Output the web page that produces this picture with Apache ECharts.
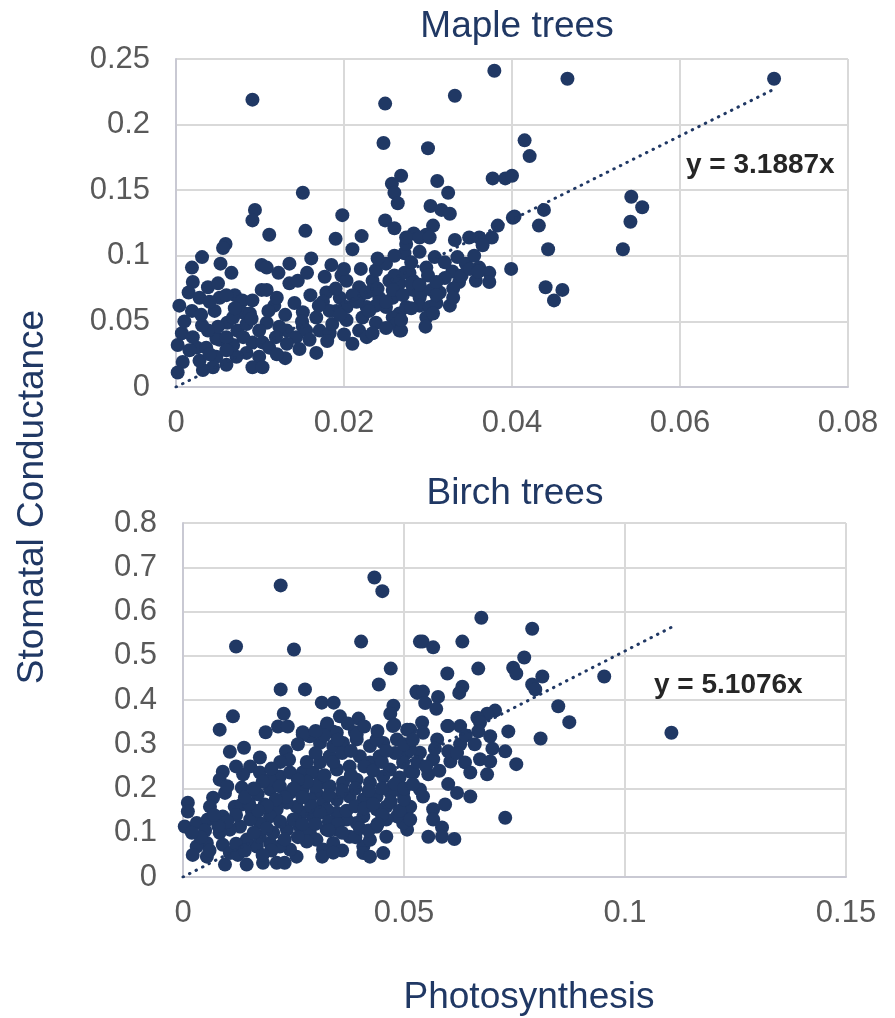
<!DOCTYPE html>
<html>
<head>
<meta charset="utf-8">
<script src="https://cdn.jsdelivr.net/npm/echarts@6/dist/echarts.min.js"></script>
<style>
  html, body { margin: 0; padding: 0; background: #ffffff; }
  #chart { width: 895px; height: 1018px; }
</style>
</head>
<body>
<div id="chart"></div>
<script>
// Photosynthesis (x) vs stomatal conductance (y), one [x, y] pair per leaf
const maplePoints = [
  [0.0091,0.219],[0.0249,0.216],[0.0332,0.222],[0.0379,0.241],[0.0466,0.235],[0.0712,0.235],
  [0.0247,0.186],[0.0415,0.188],[0.0421,0.176],[0.0300,0.182],
  [0.0268,0.161],[0.0257,0.155],[0.0260,0.148],[0.0264,0.140],
  [0.0311,0.157],[0.0324,0.148],[0.0377,0.159],[0.0392,0.159],[0.0400,0.161],
  [0.0151,0.148],[0.0094,0.135],[0.0091,0.127],[0.0111,0.116],[0.0154,0.119],[0.0198,0.131],
  [0.0249,0.127],[0.0260,0.121],[0.0303,0.138],[0.0316,0.135],[0.0326,0.132],[0.0306,0.123],
  [0.0283,0.117],[0.0298,0.116],
  [0.0542,0.145],[0.0555,0.137],[0.0541,0.126],[0.0532,0.105],
  [0.0438,0.135],[0.0432,0.123],[0.0443,0.105],[0.0403,0.130],[0.0383,0.123],[0.0376,0.114],
  [0.0440,0.076],[0.0460,0.074],[0.0450,0.066],[0.0399,0.090],
  [0.0190,0.113],[0.0221,0.115],[0.0210,0.105],[0.0059,0.109],[0.0056,0.106],[0.0031,0.099],
  [0.0019,0.091],[0.0053,0.094],[0.0066,0.087],[0.0102,0.093],[0.0108,0.091],[0.0135,0.094],
  [0.0161,0.098],[0.0122,0.087],[0.0020,0.080],[0.0015,0.072],[0.0038,0.076],[0.0050,0.079],
  [0.0052,0.068],[0.0028,0.068],[0.0070,0.070],[0.0102,0.074],[0.0108,0.074],[0.0135,0.079],
  [0.0145,0.081],[0.0156,0.087],[0.0004,0.062],[0.0019,0.058],[0.0046,0.058],[0.0079,0.066],
  [0.0091,0.066],[0.0079,0.057],[0.0117,0.062],[0.0141,0.064],[0.0177,0.084],[0.0185,0.093],
  [0.0197,0.085],[0.0203,0.081],[0.0179,0.072],[0.0175,0.065],[0.0195,0.068],[0.0203,0.061],
  [0.0218,0.068],[0.0218,0.076],[0.0234,0.081],[0.0238,0.089],[0.0250,0.094],[0.0254,0.081],
  [0.0266,0.079],[0.0258,0.068],[0.0266,0.056],[0.0274,0.061],[0.0282,0.081],[0.0272,0.102],
  [0.0274,0.109],[0.0278,0.087],[0.0203,0.051],[0.0222,0.053],[0.0238,0.049],[0.0258,0.053],
  [0.0167,0.053],[0.0151,0.057],[0.0151,0.046],[0.0132,0.043],[0.0143,0.038],[0.0147,0.029],
  [0.0167,0.026],[0.0123,0.046],[0.0108,0.049],[0.0099,0.043],[0.0091,0.034],[0.0103,0.034],
  [0.0111,0.030],[0.0084,0.026],[0.0099,0.023],[0.0091,0.015],[0.0103,0.015],[0.0072,0.023],
  [0.0060,0.017],[0.0068,0.032],[0.0052,0.036],[0.0048,0.023],[0.0044,0.015],[0.0032,0.013],
  [0.0028,0.020],[0.0025,0.030],[0.0008,0.019],[0.0002,0.011],[0.0002,0.032],[0.0007,0.041],
  [0.0020,0.038],[0.0036,0.030],[0.0016,0.028],[0.0048,0.037],[0.0060,0.038],[0.0073,0.043],
  [0.0061,0.049],[0.0050,0.046],[0.0038,0.043],[0.0031,0.047],[0.0084,0.048],[0.0068,0.053],
  [0.0088,0.056],[0.0171,0.043],[0.0183,0.041],[0.0186,0.048],[0.0218,0.043],[0.0210,0.033],
  [0.0227,0.038],[0.0234,0.041],[0.0191,0.058],[0.0227,0.061],[0.0242,0.068],[0.0238,0.062],
  [0.0250,0.061],[0.0262,0.048],[0.0266,0.043],[0.0290,0.068],[0.0282,0.074],[0.0258,0.074],
  [0.0234,0.074],[0.0227,0.072],[0.0215,0.065],[0.0183,0.058],[0.0195,0.055],[0.0155,0.043],
  [0.0159,0.036],[0.0132,0.033],[0.0119,0.038],
  [0.0274,0.114],[0.0290,0.114],[0.0302,0.114],[0.0332,0.112],[0.0349,0.114],[0.0361,0.114],
  [0.0365,0.108],[0.0335,0.099],[0.0345,0.094],[0.0355,0.100],[0.0361,0.091],[0.0373,0.087],
  [0.0373,0.080],[0.0357,0.081],[0.0337,0.080],[0.0329,0.088],[0.0320,0.083],[0.0308,0.099],
  [0.0298,0.091],[0.0272,0.087],[0.0280,0.079],[0.0292,0.072],[0.0304,0.074],[0.0314,0.072],
  [0.0290,0.062],[0.0302,0.061],[0.0310,0.064],[0.0326,0.062],[0.0298,0.053],[0.0306,0.056],
  [0.0297,0.046],[0.0268,0.043],[0.0268,0.051],[0.0401,0.129],
  [0.0220,0.090],[0.0240,0.075],[0.0260,0.085],[0.0280,0.095],[0.0300,0.085],[0.0320,0.095],
  [0.0340,0.085],[0.0250,0.065],[0.0270,0.070],[0.0290,0.078],[0.0310,0.080],[0.0330,0.075],
  [0.0350,0.090],[0.0230,0.058],[0.0210,0.070],[0.0190,0.075],[0.0170,0.062],[0.0160,0.070],
  [0.0130,0.055],[0.0120,0.068],[0.0110,0.058],[0.0090,0.052],[0.0070,0.060],[0.0060,0.070],
  [0.0040,0.065],[0.0030,0.055],[0.0010,0.050],[0.0040,0.025],[0.0060,0.028],[0.0080,0.038],
  [0.0130,0.022],[0.0120,0.025],[0.0150,0.050],[0.0180,0.035],[0.0200,0.040],[0.0250,0.045],
  [0.0280,0.060],[0.0310,0.070],[0.0330,0.068],[0.0360,0.088],[0.0290,0.103],[0.0260,0.100],
  [0.0240,0.098],[0.0200,0.090]
];

const birchPoints = [
  [0.0221,0.659],[0.0433,0.677],[0.0451,0.646],[0.0120,0.521],[0.0251,0.514],[0.0403,0.532],
  [0.0470,0.471],[0.0443,0.435],[0.0221,0.424],[0.0276,0.424],[0.0314,0.394],[0.0341,0.394],
  [0.0228,0.369],[0.0113,0.363],[0.0083,0.333],[0.0187,0.327],[0.0215,0.340],[0.0237,0.340],
  [0.0355,0.363],[0.0397,0.358],[0.0326,0.347],[0.0373,0.347],[0.0476,0.387],[0.0469,0.369],
  [0.0530,0.416],[0.0536,0.532],[0.0478,0.344],[0.0271,0.327],[0.0339,0.329],[0.0389,0.327],
  [0.0675,0.586],[0.0790,0.561],[0.0542,0.532],[0.0566,0.519],[0.0632,0.532],[0.0772,0.496],
  [0.0668,0.471],[0.0598,0.460],[0.0747,0.473],[0.0754,0.460],[0.0813,0.453],[0.0953,0.453],
  [0.0632,0.430],[0.0625,0.416],[0.0528,0.419],[0.0543,0.419],[0.0577,0.407],[0.0548,0.393],
  [0.0573,0.380],[0.0790,0.435],[0.0797,0.424],[0.0849,0.386],[0.0874,0.350],[0.0736,0.329],
  [0.0809,0.313],[0.0706,0.376],[0.0688,0.369],[0.0666,0.360],[0.0672,0.349],[0.0598,0.341],
  [0.0627,0.341],[0.0541,0.349],[0.0514,0.333],[0.1105,0.326],
  [0.0729,0.284],[0.0754,0.255],[0.0695,0.318],[0.0668,0.329],[0.0627,0.300],[0.0600,0.341],
  [0.0638,0.259],[0.0650,0.236],[0.0672,0.266],[0.0695,0.261],[0.0688,0.232],[0.0650,0.182],
  [0.0729,0.134],[0.0593,0.164],[0.0566,0.153],[0.0566,0.130],[0.0586,0.112],[0.0586,0.091],
  [0.0555,0.091],[0.0614,0.086],[0.0536,0.198],[0.0543,0.182],[0.0510,0.157],[0.0507,0.130],
  [0.0507,0.107],[0.0555,0.232],[0.0514,0.238],[0.0605,0.261],[0.0566,0.266],[0.0536,0.281],
  [0.0507,0.281],[0.0575,0.311],[0.0543,0.326],[0.0600,0.284],
  [0.0106,0.283],[0.0138,0.292],[0.0174,0.270],[0.0233,0.284],[0.0152,0.250],[0.0090,0.238],
  [0.0083,0.220],[0.0136,0.232],[0.0174,0.236],[0.0133,0.202],[0.0095,0.190],[0.0068,0.179],
  [0.0061,0.159],[0.0011,0.168],[0.0011,0.148],[0.0004,0.114],[0.0031,0.122],[0.0056,0.130],
  [0.0090,0.137],[0.0117,0.159],[0.0133,0.164],[0.0156,0.148],[0.0185,0.164],[0.0169,0.187],
  [0.0197,0.198],[0.0219,0.227],[0.0242,0.236],[0.0271,0.236],[0.0197,0.220],[0.0219,0.205],
  [0.0242,0.190],[0.0271,0.198],[0.0294,0.236],[0.0310,0.259],[0.0332,0.273],[0.0348,0.243],
  [0.0377,0.250],[0.0400,0.273],[0.0423,0.259],[0.0445,0.273],[0.0468,0.243],[0.0498,0.259],
  [0.0521,0.236],[0.0514,0.288],[0.0484,0.311],[0.0453,0.303],[0.0423,0.296],[0.0393,0.311],
  [0.0362,0.303],[0.0340,0.296],[0.0310,0.303],[0.0287,0.318],[0.0271,0.322],[0.0325,0.341],
  [0.0348,0.326],[0.0393,0.322],[0.0438,0.311],[0.0475,0.341],[0.0507,0.333],
  [0.0310,0.213],[0.0332,0.205],[0.0362,0.213],[0.0393,0.220],[0.0423,0.213],[0.0453,0.227],
  [0.0475,0.205],[0.0498,0.190],[0.0514,0.159],[0.0302,0.190],[0.0287,0.175],[0.0317,0.168],
  [0.0348,0.175],[0.0377,0.182],[0.0408,0.175],[0.0438,0.182],[0.0460,0.159],[0.0438,0.153],
  [0.0408,0.137],[0.0393,0.122],[0.0370,0.130],[0.0348,0.145],[0.0325,0.153],[0.0294,0.137],
  [0.0271,0.145],[0.0257,0.159],[0.0235,0.168],[0.0212,0.153],[0.0197,0.137],[0.0174,0.122],
  [0.0152,0.130],[0.0129,0.114],[0.0106,0.107],[0.0083,0.100],[0.0090,0.073],[0.0054,0.077],
  [0.0031,0.069],[0.0022,0.050],[0.0054,0.046],[0.0095,0.028],[0.0106,0.054],[0.0124,0.050],
  [0.0144,0.028],[0.0181,0.032],[0.0212,0.032],[0.0230,0.032],[0.0257,0.046],[0.0242,0.062],
  [0.0219,0.069],[0.0197,0.077],[0.0167,0.069],[0.0144,0.084],[0.0174,0.091],[0.0204,0.100],
  [0.0235,0.107],[0.0264,0.114],[0.0287,0.100],[0.0302,0.084],[0.0317,0.062],[0.0315,0.046],
  [0.0340,0.077],[0.0325,0.107],[0.0348,0.107],[0.0377,0.091],[0.0408,0.069],[0.0408,0.054],
  [0.0423,0.046],[0.0453,0.054],[0.0423,0.084],[0.0460,0.091],[0.0498,0.122],[0.0514,0.130],
  [0.0484,0.137],[0.0438,0.114],[0.0460,0.130],
  [0.0280,0.260],[0.0300,0.280],[0.0320,0.230],[0.0340,0.260],[0.0360,0.280],[0.0380,0.230],
  [0.0410,0.250],[0.0430,0.240],[0.0450,0.260],[0.0480,0.280],[0.0500,0.300],[0.0520,0.310],
  [0.0490,0.225],[0.0470,0.190],[0.0450,0.200],[0.0420,0.195],[0.0390,0.200],[0.0360,0.195],
  [0.0330,0.185],[0.0300,0.205],[0.0280,0.215],[0.0260,0.220],[0.0250,0.200],[0.0230,0.180],
  [0.0210,0.175],[0.0190,0.160],[0.0170,0.150],[0.0150,0.165],[0.0140,0.180],[0.0120,0.140],
  [0.0100,0.125],[0.0080,0.115],[0.0070,0.140],[0.0050,0.105],[0.0040,0.090],[0.0020,0.100],
  [0.0060,0.060],[0.0120,0.075],[0.0140,0.060],[0.0160,0.100],[0.0190,0.110],[0.0220,0.125],
  [0.0250,0.130],[0.0270,0.120],[0.0290,0.160],[0.0310,0.145],[0.0330,0.125],[0.0350,0.120],
  [0.0370,0.150],[0.0390,0.160],[0.0410,0.155],[0.0430,0.165],[0.0450,0.140],[0.0470,0.170],
  [0.0490,0.150],[0.0500,0.175],[0.0480,0.210],[0.0460,0.285],[0.0440,0.330],[0.0410,0.340],
  [0.0380,0.285],[0.0350,0.310],[0.0320,0.320],[0.0300,0.330],[0.0260,0.300],[0.0240,0.265],
  [0.0220,0.260],[0.0200,0.245],[0.0180,0.215],[0.0160,0.200],[0.0120,0.250],[0.0100,0.205],
  [0.0270,0.180],[0.0330,0.105],[0.0360,0.100],[0.0390,0.090],[0.0300,0.120],[0.0280,0.080],
  [0.0260,0.090],[0.0230,0.085],[0.0200,0.060],[0.0180,0.050],[0.0400,0.110],[0.0420,0.105],
  [0.0440,0.120],[0.0360,0.060],[0.0340,0.055],[0.0500,0.200],[0.0520,0.210],[0.0530,0.260],
  [0.0550,0.250],[0.0570,0.290],[0.0580,0.240],[0.0620,0.280],[0.0640,0.320],[0.0660,0.300],
  [0.0700,0.290],[0.0600,0.210],[0.0620,0.190]
];

// Through-origin least-squares slopes shown on each panel
const mapleSlope = 3.1887;
const birchSlope = 5.1076;

const mapleXTicks = { min: 0, max: 0.08, interval: 0.02 };
const mapleYTicks = { min: 0, max: 0.25, interval: 0.05 };
const birchXTicks = { min: 0, max: 0.15, interval: 0.05 };
const birchYTicks = { min: 0, max: 0.8, interval: 0.1 };

const NAVY = '#203864';
const TICK = '#595959';
const GRID = '#d9d9d9';
const FONT = "'Liberation Sans', Arial, sans-serif";

function trend(points, slope) {
  const xMax = Math.max(...points.map(p => p[0]));
  return [[0, 0], [xMax, slope * xMax]];
}

function fmt(v) {
  return String(Math.round(v * 1000) / 1000);
}

function xAxis(ticks, gridIndex) {
  return {
    type: 'value', gridIndex, min: ticks.min, max: ticks.max, interval: ticks.interval,
    axisLine: { show: true, onZero: false, lineStyle: { color: '#c9c9d3', width: 2 } },
    axisTick: { show: false },
    splitLine: { show: true, lineStyle: { color: GRID, width: 2 } },
    axisLabel: { color: TICK, fontSize: 31, fontFamily: FONT, margin: 21, formatter: fmt }
  };
}

function yAxis(ticks, gridIndex) {
  return {
    type: 'value', gridIndex, min: ticks.min, max: ticks.max, interval: ticks.interval,
    axisLine: { show: true, onZero: false, lineStyle: { color: '#c9c9d3', width: 2 } },
    axisTick: { show: false },
    splitLine: { show: true, lineStyle: { color: GRID, width: 2 } },
    axisLabel: { color: TICK, fontSize: 31, fontFamily: FONT, margin: 26, formatter: fmt }
  };
}

function scatter(points, idx) {
  return {
    type: 'scatter', xAxisIndex: idx, yAxisIndex: idx, data: points,
    symbolSize: 14, itemStyle: { color: NAVY, opacity: 1 }, z: 3
  };
}

function trendLine(points, slope, idx) {
  return {
    type: 'line', xAxisIndex: idx, yAxisIndex: idx, data: trend(points, slope),
    symbol: 'none', silent: true, z: 4,
    lineStyle: { color: NAVY, width: 3, type: [0.5, 6.8], cap: 'round' }
  };
}

const chart = echarts.init(document.getElementById('chart'), null, { renderer: 'canvas' });

chart.setOption({
  animation: false,
  backgroundColor: '#ffffff',
  title: [
    { text: 'Maple trees', left: 512, top: 3, textAlign: 'center',
      textStyle: { color: NAVY, fontSize: 37, fontWeight: 'normal', fontFamily: FONT } },
    { text: 'Birch trees', left: 510, top: 470, textAlign: 'center',
      textStyle: { color: NAVY, fontSize: 37, fontWeight: 'normal', fontFamily: FONT } }
  ],
  grid: [
    { left: 176, top: 59, width: 672, height: 328 },
    { left: 183, top: 523, width: 663, height: 354 }
  ],
  xAxis: [xAxis(mapleXTicks, 0), xAxis(birchXTicks, 1)],
  yAxis: [yAxis(mapleYTicks, 0), yAxis(birchYTicks, 1)],
  series: [
    scatter(maplePoints, 0),
    trendLine(maplePoints, mapleSlope, 0),
    scatter(birchPoints, 1),
    trendLine(birchPoints, birchSlope, 1)
  ],
  graphic: [
    { type: 'text', left: 686, top: 151,
      style: { text: 'y = ' + mapleSlope + 'x', fill: '#262626', font: "bold 28px 'Liberation Sans', Arial, sans-serif" } },
    { type: 'text', left: 654, top: 671,
      style: { text: 'y = ' + birchSlope + 'x', fill: '#262626', font: "bold 28px 'Liberation Sans', Arial, sans-serif" } },
    { type: 'text', x: 33, y: 497, rotation: Math.PI / 2,
      style: { text: 'Stomatal Conductance', fill: NAVY, align: 'center', verticalAlign: 'middle',
               font: "37px 'Liberation Sans', Arial, sans-serif" } },
    { type: 'text', x: 529, y: 998,
      style: { text: 'Photosynthesis', fill: NAVY, align: 'center', verticalAlign: 'middle',
               font: "37px 'Liberation Sans', Arial, sans-serif" } }
  ]
});
</script>
</body>
</html>
